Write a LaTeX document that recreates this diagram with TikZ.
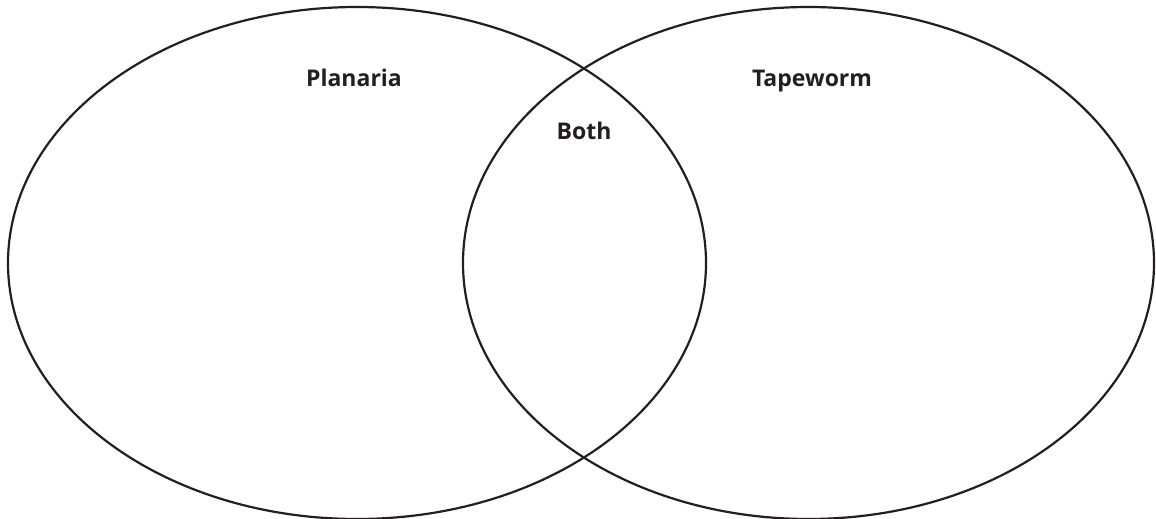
\documentclass[tikz,border=0pt]{standalone}
\usepackage{fontspec}
\setmainfont{Open Sans}
\definecolor{ink}{HTML}{231F20}
\begin{document}
\begin{tikzpicture}[x=1pt,y=-1pt,
  ring/.style={draw=ink,line width=2.2pt},
  lbl/.style={text=ink,font=\bfseries\fontsize{23}{27}\selectfont,inner sep=0pt,anchor=base}]
\useasboundingbox (0,0) rectangle (1156,519);
\draw[ring] (357,263) ellipse [x radius=349, y radius=256];
\draw[ring] (808.5,263) ellipse [x radius=345.5, y radius=256];
\node[lbl] (planaria) at (354,86) {Planaria};
\node[lbl] (tapeworm) at (812,86) {Tapeworm};
\node[lbl] (both) at (584,139) {Both};
\end{tikzpicture}
\end{document}
